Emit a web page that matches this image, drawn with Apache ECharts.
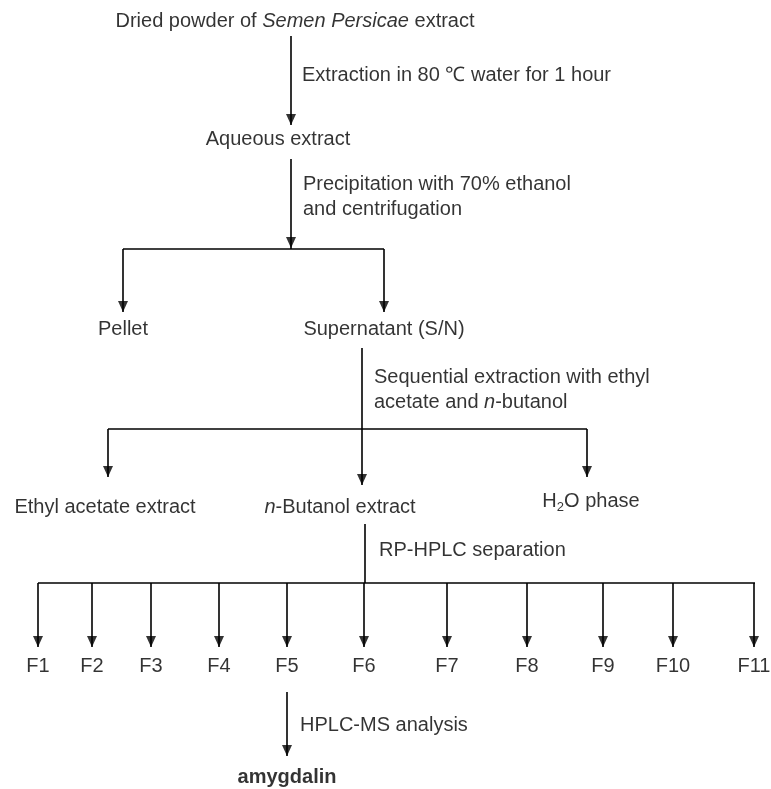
<!DOCTYPE html>
<html>
<head>
<meta charset="utf-8">
<script src="https://cdn.jsdelivr.net/npm/echarts@6/dist/echarts.min.js"></script>
<style>
html,body{margin:0;padding:0;background:#fff;}
#chart{width:771px;height:789px;}
</style>
</head>
<body>
<div id="chart"></div>
<script>
// Node texts (centered)
const nodeLabels = ['Dried powder of {i|Semen Persicae} extract', 'Aqueous extract', 'Pellet', 'Supernatant (S/N)',
  'Ethyl acetate extract', '{i|n}-Butanol extract', 'H{sub|2}O phase', '{b|amygdalin}'];
const nodeX = [295, 278, 123, 384, 105, 340, 591, 287];
const nodeY = [21, 139, 329, 329, 507, 507, 501, 777];

// Step texts (left aligned)
const stepLabels = ['Extraction in 80 \u2103 water for 1 hour', 'Precipitation with 70% ethanol\nand centrifugation',
  'Sequential extraction with ethyl\nacetate and {i|n}-butanol', 'RP-HPLC separation', 'HPLC-MS analysis'];
const stepX = [302, 303, 374, 379, 300];
const stepY = [75, 197, 390, 550, 725];

// Fractions
const fractionLabels = ['F1','F2','F3','F4','F5','F6','F7','F8','F9','F10','F11'];
const fractionX = [38, 92, 151, 219, 287, 364, 447, 527, 603, 673, 754];
const fractionBusY = 583;
const fractionTipY = 647;
const fractionLabelY = 666;

// Connector segments [x1, y1, x2, y2]
const segments = [
  [291, 36, 291, 125],
  [291, 159, 291, 249],
  [123, 249, 384, 249],
  [123, 249, 123, 312],
  [384, 249, 384, 312],
  [362, 348, 362, 485],
  [108, 429, 587, 429],
  [108, 429, 108, 477],
  [587, 429, 587, 477],
  [365, 524, 365, 583],
  [38, 583, 755, 583],
  [287, 692, 287, 756]
];
// Arrow tips [x, y]
const arrowTips = [[291, 125], [291, 248], [123, 312], [384, 312], [362, 485], [108, 477], [587, 477], [287, 756]];

const FONT = "'Liberation Sans', Arial, Helvetica, sans-serif";
const rich = {
  i: {fontStyle: 'italic', fontSize: 20, fontFamily: FONT, color: '#000'},
  b: {fontWeight: 'bold', fontSize: 20, fontFamily: FONT, color: '#000'},
  sub: {fontSize: 13, fontFamily: FONT, color: '#000', verticalAlign: 'bottom', padding: [12, 0, 0, 0]}
};

const allSegs = segments.concat(fractionX.map(x => [x, fractionBusY, x, fractionTipY]));
const allTips = arrowTips.concat(fractionX.map(x => [x, fractionTipY]));

const chart = echarts.init(document.getElementById('chart'), null, {renderer: 'canvas'});
chart.setOption({
  backgroundColor: '#fff',
  animation: false,
  grid: {left: 0, right: 0, top: 0, bottom: 0},
  xAxis: {type: 'value', min: 0, max: 771, show: false},
  yAxis: {type: 'value', min: 0, max: 789, inverse: true, show: false},
  series: [
    {
      type: 'lines',
      coordinateSystem: 'cartesian2d',
      polyline: false,
      symbol: ['none', 'none'],
      lineStyle: {color: '#000', width: 1.6, opacity: 1},
      data: allSegs.map(s => ({coords: [[s[0], s[1]], [s[2], s[3]]]}))
    },
    {
      type: 'scatter',
      symbol: 'path://M0,0L10,0L5,11Z',
      symbolSize: [10, 11],
      symbolOffset: [0, '-50%'],
      itemStyle: {color: '#000'},
      data: allTips
    },
    {
      type: 'scatter',
      symbolSize: 0,
      label: {
        show: true, position: 'inside', align: 'center', verticalAlign: 'middle',
        fontSize: 20, fontFamily: FONT, color: '#000', rich: rich,
        formatter: p => p.data[2]
      },
      data: nodeLabels.map((t, i) => [nodeX[i], nodeY[i], t])
    },
    {
      type: 'scatter',
      symbolSize: 0,
      label: {
        show: true, position: 'inside', align: 'center', verticalAlign: 'middle',
        fontSize: 20, fontFamily: FONT, color: '#000', rich: rich,
        formatter: p => p.data[2]
      },
      data: fractionLabels.map((t, i) => [fractionX[i], fractionLabelY, t])
    },
    {
      type: 'scatter',
      symbolSize: 0,
      label: {
        show: true, position: 'right', distance: 0, align: 'left', verticalAlign: 'middle',
        fontSize: 20, lineHeight: 25, fontFamily: FONT, color: '#000', rich: rich,
        formatter: p => p.data[2]
      },
      data: stepLabels.map((t, i) => [stepX[i], stepY[i], t])
    }
  ]
});
</script>
</body>
</html>
